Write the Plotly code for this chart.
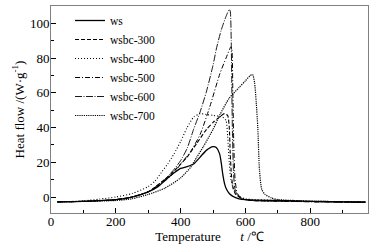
import plotly.graph_objects as go

# ---- data ----
ws_t = [20, 100, 200, 250, 300, 330, 360, 380, 400, 420, 440, 460, 480, 500, 510, 520, 525, 530, 535, 540, 550, 560, 580, 600, 700, 800, 970]
ws_q = [-2.8, -2.5, -1.5, 0, 3, 6, 11, 14, 16.5, 17.5, 19, 23, 27, 29, 28.5, 25, 20, 13, 8, 5, 2, 0.5, -1, -1.5, -2, -2.5, -3]

b300_t = [20, 100, 200, 250, 300, 350, 380, 400, 420, 450, 480, 500, 520, 535, 545, 550, 553, 557, 562, 570, 590, 620, 700, 800, 970]
b300_q = [-2.8, -2.5, -1.5, 0, 3, 10, 15, 19, 23, 31, 39, 43, 46, 48, 47, 40, 25, 12, 5, 1.5, -1, -2, -2.3, -2.6, -3]

b400_t = [20, 100, 150, 200, 250, 300, 320, 340, 360, 380, 400, 420, 440, 460, 480, 500, 530, 540, 545, 550, 555, 565, 580, 600, 700, 800, 970]
b400_q = [-2.8, -2.2, -1.2, 0, 2, 6, 9, 14, 19, 25, 32, 40, 46, 48, 47.5, 47, 46, 44, 35, 20, 10, 4, 0.5, -1, -2, -2.4, -2.8]

b500_t = [20, 100, 200, 250, 300, 350, 380, 400, 430, 460, 490, 521, 540, 555, 558, 561, 564, 568, 575, 590, 620, 700, 800, 970]
b500_q = [-2.8, -2.5, -1.5, 0, 3, 9, 14, 19, 26, 36, 52, 71, 80, 86.5, 85, 60, 30, 10, 2, -1, -2, -2.4, -2.7, -3]

b600_t = [20, 100, 200, 250, 300, 350, 380, 400, 420, 440, 460, 480, 500, 511, 525, 540, 550, 553, 556, 558, 560, 563, 567, 575, 590, 620, 700, 800, 970]
b600_q = [-2.8, -2.5, -1.5, 0, 3, 10, 16, 21, 28, 39, 49, 61, 76, 86, 96, 104, 108, 107, 90, 60, 35, 15, 5, 1, -1, -2, -2.4, -2.7, -3]

b700_t = [20, 100, 200, 250, 300, 350, 400, 430, 450, 470, 500, 520, 550, 580, 600, 615, 622, 628, 633, 638, 643, 650, 660, 680, 700, 750, 800, 970]
b700_q = [-2.8, -2.5, -2, -1, 1.5, 5, 11, 17, 23, 29, 39, 47, 57, 63, 67, 70, 70.5, 66, 55, 40, 16, 4.5, 1.5, -0.5, -1.5, -2, -2.4, -2.8]

names = ["ws", "wsbc-300", "wsbc-400", "wsbc-500", "wsbc-600", "wsbc-700"]
dashes = ["solid", "4px,2px", "1px,2px", "5px,2px,1px,2px", "7px,1.5px,1px,1.5px", "1.2px,1px"]
widths = [1.3, 1.1, 1.1, 1.0, 0.9, 1.2]

x_ticks = [0, 200, 400, 600, 800]
y_ticks = [0, 20, 40, 60, 80, 100]

series = [(ws_t, ws_q), (b300_t, b300_q), (b400_t, b400_q),
          (b500_t, b500_q), (b600_t, b600_q), (b700_t, b700_q)]

fig = go.Figure()
for (t, q), n, d, w in zip(series, names, dashes, widths):
    fig.add_trace(go.Scatter(x=t, y=q, mode="lines", name=n,
                             line=dict(color="black", width=w, dash=d, shape="spline", smoothing=0.6)))

FAM = "Liberation Serif"
font = dict(family=FAM, size=13, color="black")
axis_common = dict(showline=True, linecolor="#808080", linewidth=1, mirror=True,
                   ticks="inside", ticklen=5, tickcolor="black", tickwidth=1,
                   showgrid=False, zeroline=False, tickfont=dict(family=FAM, size=13, color="black"),
                   automargin=False)
fig.update_xaxes(range=[0, 978], tickvals=x_ticks, ticklabelstandoff=-4,
                 minor=dict(tickvals=[100, 300, 500, 700, 900], ticks="inside", ticklen=3, tickcolor="black"),
                 title=dict(text="Temperature      <i>t</i> /℃", font=dict(family=FAM, size=13, color="black"), standoff=0), **axis_common)
fig.update_yaxes(range=[-9.2, 110], tickvals=y_ticks, ticklabelstandoff=-2,
                 minor=dict(tickvals=[10, 30, 50, 70, 90], ticks="inside", ticklen=3, tickcolor="black"),
                 title=dict(text="Heat flow /(W·g<sup>-1</sup>)", font=dict(family=FAM, size=13, color="black"), standoff=2), **axis_common)

fig.update_layout(width=377, height=251, margin=dict(l=51, r=9, t=6, b=38, autoexpand=False),
                  paper_bgcolor="white", plot_bgcolor="white", font=font,
                  legend=dict(x=0.06, y=1.0, xanchor="left", yanchor="top",
                              bgcolor="rgba(0,0,0,0)", borderwidth=0,
                              font=dict(family=FAM, size=11.5, color="black"),
                              tracegroupgap=0, itemwidth=30))

post = (
    "document.body.style.margin='0';document.body.style.padding='0';"
    "var gd=document.getElementById('{plot_id}');"
    "Promise.all([document.fonts.load('13px \"Liberation Serif\"'),"
    "document.fonts.load('italic 13px \"Liberation Serif\"')]).then(function(){"
    "Plotly.newPlot(gd, gd.data, gd.layout, {displayModeBar:false});});"
)
fig.write_html("out.html", config={"displayModeBar": False}, post_script=post)
